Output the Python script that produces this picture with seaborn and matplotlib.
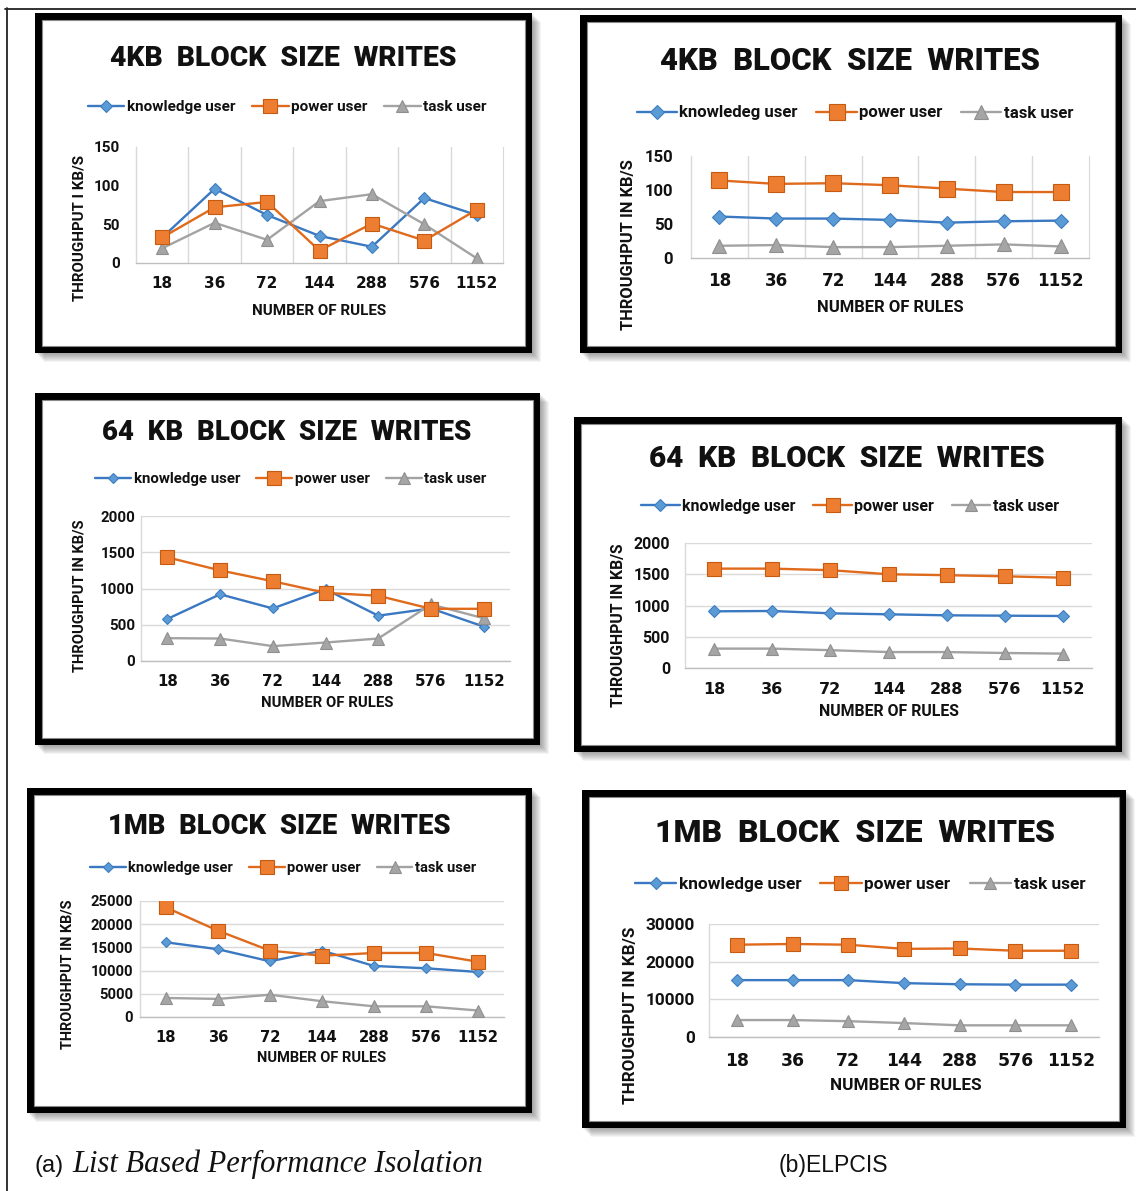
import numpy as np
import pandas as pd
import seaborn as sns
import matplotlib
matplotlib.use("Agg")
import matplotlib.pyplot as plt
from matplotlib import font_manager as fm
from matplotlib.font_manager import FontProperties
from matplotlib.patches import Rectangle
from matplotlib.lines import Line2D

# ---------------------------------------------------------------- data
rules = ["18", "36", "72", "144", "288", "576", "1152"]
users = ["knowledge user", "power user", "task user"]

# (a) List based performance isolation
lb4k_knowledge = [33, 96, 62, 35, 21, 84, 62]
lb4k_power = [33, 72, 79, 16, 51, 29, 69]
lb4k_task = [19, 52, 30, 80, 89, 50, 6]

lb64k_knowledge = [580, 920, 725, 990, 625, 725, 475]
lb64k_power = [1430, 1250, 1100, 940, 900, 720, 720]
lb64k_task = [315, 310, 205, 255, 310, 780, 590]

lb1m_knowledge = [16100, 14600, 12000, 14300, 11000, 10500, 9700]
lb1m_power = [23600, 18600, 14300, 13200, 13800, 13800, 11900]
lb1m_task = [4100, 3900, 4800, 3400, 2300, 2300, 1400]

# (b) ELPCIS
el4k_knowledge = [61, 58, 58, 56, 52, 54, 55]
el4k_power = [114, 109, 110, 107, 102, 97, 97]
el4k_task = [18, 19, 16, 16, 18, 20, 17]

el64k_knowledge = [907, 912, 875, 859, 843, 837, 832]
el64k_power = [1590, 1590, 1565, 1500, 1485, 1467, 1445]
el64k_task = [310, 310, 285, 255, 255, 240, 230]

el1m_knowledge = [15100, 15100, 15100, 14300, 14000, 13900, 13900]
el1m_power = [24500, 24700, 24500, 23400, 23500, 22900, 22900]
el1m_task = [4500, 4500, 4200, 3700, 3100, 3100, 3100]

titles = ["4KB  BLOCK  SIZE  WRITES", "4KB  BLOCK  SIZE  WRITES",
          "64  KB  BLOCK  SIZE  WRITES", "64  KB  BLOCK  SIZE  WRITES",
          "1MB  BLOCK  SIZE  WRITES", "1MB  BLOCK  SIZE  WRITES"]
ylabels = ["THROUGHPUT I KB/S", "THROUGHPUT IN KB/S", "THROUGHPUT IN KB/S",
           "THROUGHPUT IN KB/S", "THROUGHPUT IN KB/S", "THROUGHPUT IN KB/S"]
legend_labels = [users, ["knowledeg user", "power user", "task user"],
                 users, users, users, users]
y_limits = [150, 150, 2000, 2000, 25000, 30000]
y_steps = [50, 50, 500, 500, 5000, 10000]
series = [
    (lb4k_knowledge, lb4k_power, lb4k_task),
    (el4k_knowledge, el4k_power, el4k_task),
    (lb64k_knowledge, lb64k_power, lb64k_task),
    (el64k_knowledge, el64k_power, el64k_task),
    (lb1m_knowledge, lb1m_power, lb1m_task),
    (el1m_knowledge, el1m_power, el1m_task),
]
x_label = "NUMBER OF RULES"

# ---------------------------------------------------------------- style
line_colors = ["#3A78C2", "#E06A1C", "#A3A3A3"]
marker_fill = ["#5B9BD5", "#ED7D31", "#A5A5A5"]
marker_edge = ["#3F7DC0", "#C55A11", "#8F8F8F"]
markers = ["D", "s", "^"]

sns.set_style("white")
plt.rcParams["font.family"] = ["DejaVu Sans"]

available = {f.name for f in fm.fontManager.ttflist}
BOLD_SANS = "Roboto" if "Roboto" in available else "DejaVu Sans"
PLAIN_SANS = "Liberation Sans" if "Liberation Sans" in available else "DejaVu Sans"
TITLE_FONT = [BOLD_SANS, "DejaVu Sans"]


def label_font(size):
    return FontProperties(family=BOLD_SANS, weight="bold", size=size)


W, H = 1136, 1191
fig = plt.figure(figsize=(W / 100, H / 100), dpi=100)
fig.patch.set_facecolor("white")


def fx(x):
    return x / W


def fy(y):
    return 1 - y / H


def px2pt(p):
    return p * 0.72


# panel layout in pixels
layout = [
    dict(box=(35, 13, 532, 353), ax=(136, 147, 503, 263), title=(283, 58), leg=(287, 107),
         xl=(319, 311), yl=(79, 228), s=1.0, ypad=16, ticklen=0, vgrid=True,
         ms=(6.5, 10, 9)),
    dict(box=(580, 15, 1122, 353), ax=(691, 156, 1089, 258), title=(850, 61), leg=(855, 113),
         xl=(890, 308), yl=(628, 245), s=1.1, ypad=18, ticklen=0, vgrid=True,
         ms=(7, 11, 9.5)),
    dict(box=(35, 393, 540, 745), ax=(141, 516, 510, 661), title=(287, 433), leg=(291, 479),
         xl=(327, 703), yl=(79, 596), s=0.98, ypad=1, ticklen=5, vgrid=False,
         ms=(5.5, 9.5, 8)),
    dict(box=(574, 417, 1122, 752), ax=(685, 543, 1092, 668), title=(847, 459), leg=(850, 506),
         xl=(889, 712), yl=(618, 625), s=1.05, ypad=9, ticklen=6, vgrid=False,
         ms=(6, 10, 8.5)),
    dict(box=(27, 788, 532, 1113), ax=(140, 901, 504, 1017), title=(279, 827), leg=(283, 868),
         xl=(322, 1058), yl=(68, 974), s=0.97, ypad=1, ticklen=6, vgrid=False,
         ms=(5.5, 9.5, 8)),
    dict(box=(582, 790, 1126, 1128), ax=(709, 924, 1099, 1037), title=(855, 833), leg=(860, 884),
         xl=(906, 1085), yl=(630, 1015), s=1.13, ypad=8, ticklen=6, vgrid=False,
         ms=(6.5, 10, 8.5)),
]


def draw_frame(x0, y0, x1, y1):
    # soft drop shadow towards the lower right
    for k in range(1, 10):
        fig.add_artist(Rectangle((fx(x0 + k), fy(y1 + k)), (x1 - x0) / W, (y1 - y0) / H,
                                 transform=fig.transFigure, facecolor="black",
                                 edgecolor="none", alpha=0.045, zorder=-5))
    fig.add_artist(Rectangle((fx(x0), fy(y1)), (x1 - x0) / W, (y1 - y0) / H,
                             transform=fig.transFigure, facecolor="black",
                             edgecolor="none", zorder=-4))
    b = 7
    fig.add_artist(Rectangle((fx(x0 + b), fy(y1 - b)), (x1 - x0 - 2 * b) / W,
                             (y1 - y0 - 2 * b) / H, transform=fig.transFigure,
                             facecolor="white", edgecolor="#8A8A8A", linewidth=0.8,
                             zorder=-3))


# outer page rules
fig.add_artist(Line2D([fx(5), fx(W)], [fy(8.5), fy(8.5)], transform=fig.transFigure,
                      color="#222222", lw=1.3, zorder=-6))
fig.add_artist(Line2D([fx(6.5), fx(6.5)], [fy(8), fy(H)], transform=fig.transFigure,
                      color="#222222", lw=1.3, zorder=-6))

for i, (lay, (k, p, t)) in enumerate(zip(layout, series)):
    s = lay["s"]
    draw_frame(*lay["box"])
    ax0, ay0, ax1, ay1 = lay["ax"]
    ax = fig.add_axes([fx(ax0), fy(ay1), (ax1 - ax0) / W, (ay1 - ay0) / H])
    ax.set_facecolor("none")

    df = pd.DataFrame({
        "rules": rules * 3,
        "throughput": list(k) + list(p) + list(t),
        "user": np.repeat(users, len(rules)),
    })
    sns.pointplot(data=df, x="rules", y="throughput", hue="user", order=rules,
                  hue_order=users, palette=line_colors, markers=markers,
                  linestyles="-", errorbar=None, dodge=False, legend=False,
                  linewidth=1.7, ax=ax)

    plot_lines = [ln for ln in ax.lines if ln.get_marker() not in (None, "None", "")]
    for j, ln in enumerate(plot_lines[:3]):
        ln.set_markerfacecolor(marker_fill[j])
        ln.set_markeredgecolor(marker_edge[j])
        ln.set_markeredgewidth(0.8)
        ln.set_markersize(lay["ms"][j])
        ln.set_linewidth(1.7)
        ln.set_zorder(3 + (j == 1))

    ymax = y_limits[i]
    ax.set_ylim(0, ymax)
    ax.set_yticks(np.arange(0, ymax + 1, y_steps[i]))
    ax.set_xlim(-0.5, len(rules) - 0.5)
    ax.set_xlabel("")
    ax.set_ylabel("")

    for side in ["top", "right"]:
        ax.spines[side].set_visible(False)
    ax.spines["bottom"].set_color("#BFBFBF")
    ax.spines["bottom"].set_linewidth(1.0)
    ax.spines["left"].set_color("#D9D9D9")
    ax.spines["left"].set_linewidth(1.0)

    if lay["vgrid"]:
        ax.spines["right"].set_visible(True)
        ax.spines["right"].set_color("#D9D9D9")
        ax.set_xticks(np.arange(0.5, len(rules) - 1), minor=True)
        ax.grid(which="minor", axis="x", color="#D9D9D9", lw=1.0)
        ax.grid(which="major", axis="y", visible=False)
    else:
        ax.grid(which="major", axis="y", color="#D9D9D9", lw=1.0)
        ax.grid(which="both", axis="x", visible=False)
    ax.set_axisbelow(True)

    ax.tick_params(axis="x", which="both", length=0, pad=px2pt(13 * s))
    ax.tick_params(axis="y", which="major", length=px2pt(lay["ticklen"]), width=1.0,
                   color="#D9D9D9", direction="out", pad=px2pt(lay["ypad"]))
    ax.set_xticks(range(len(rules)))
    ax.set_xticklabels(rules, fontfamily="DejaVu Sans", fontweight="bold",
                       fontsize=11 * s, color="#111111")
    ax.set_yticklabels([str(v) for v in ax.get_yticks().astype(int)], color="#111111")
    for lbl in ax.get_yticklabels():
        lbl.set_fontproperties(label_font(11 * s))

    # chart title
    tx, ty = lay["title"]
    fig.text(fx(tx), fy(ty), titles[i], ha="center", va="center",
             family=TITLE_FONT, fontweight="black", fontsize=20.3 * s, color="#111111")

    # legend
    lx, ly = lay["leg"]
    leg = ax.legend(handles=plot_lines[:3], labels=legend_labels[i], ncol=3, loc="center",
                    bbox_to_anchor=(fx(lx), fy(ly)), bbox_transform=fig.transFigure,
                    frameon=False, handlelength=2.4, handletextpad=0.15,
                    columnspacing=1.1, prop=label_font(11 * s), borderaxespad=0,
                    borderpad=0)
    for txt in leg.get_texts():
        txt.set_color("#111111")

    # axis titles
    xlx, xly = lay["xl"]
    fig.text(fx(xlx), fy(xly), x_label, ha="center", va="center",
             fontproperties=label_font(10.9 * s), color="#111111")
    ylx, yly = lay["yl"]
    fig.text(fx(ylx), fy(yly), ylabels[i], ha="center", va="center", rotation=90,
             fontproperties=label_font(10.8 * s), color="#111111")

# captions under the two columns
fig.text(fx(35), fy(1172), "(a)", ha="left", va="baseline",
         family=PLAIN_SANS, fontsize=17, color="#111111")
fig.text(fx(72), fy(1172), "List Based Performance Isolation", ha="left", va="baseline",
         family=["Liberation Serif", "DejaVu Serif"], style="italic", fontsize=22,
         color="#111111")
fig.text(fx(833), fy(1172), "(b)ELPCIS", ha="center", va="baseline",
         family=PLAIN_SANS, fontsize=16.6, color="#111111")

fig.savefig("out.png", dpi=100, facecolor="white")
